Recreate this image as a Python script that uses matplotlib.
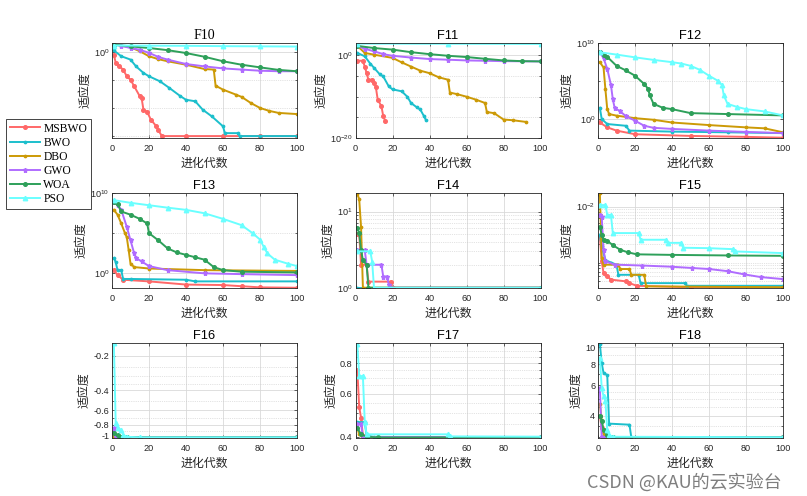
import numpy as np
import matplotlib
matplotlib.use('Agg')
import matplotlib.pyplot as plt
from matplotlib.ticker import NullFormatter

plt.rcParams['font.family'] = ['Liberation Sans', 'DejaVu Sans']
plt.rcParams['mathtext.fontset'] = 'custom'
plt.rcParams['mathtext.rm'] = 'Liberation Sans'
plt.rcParams['mathtext.it'] = 'Liberation Sans:italic'

algos = ['MSBWO', 'BWO', 'DBO', 'GWO', 'WOA', 'PSO']
colors = ['#FF6868', '#1CBFCC', '#CC9A06', '#B06CFF', '#2EA05A', '#6AFFFF']
markers = ['o', '.', '.', '*', 'o', '^']
msizes = [2.6, 3.4, 3.4, 3.6, 2.6, 3.2]

iters = [0, 20, 40, 60, 80, 100]

# ---- data: (iteration, best fitness) ----
f10_msbwo = [(1, 0.4), (2, 1.3e-2), (4, 3e-3), (6, 8e-4), (8, 5e-5), (10, 1.2e-5), (12, 8e-7), (15, 1.3e-8),
             (16, 6e-9), (17, 5e-11), (19, 2e-11), (21, 8e-13), (24, 5e-14), (25, 1e-14), (27, 8.88e-16),
             (40, 8.88e-16), (60, 8.88e-16), (80, 8.88e-16), (100, 8.88e-16)]
f10_bwo = [(1, 2.2), (5, 0.2), (10, 0.05), (13, 3e-3), (17, 2e-4), (20, 5e-5), (26, 6e-6), (31, 4e-7),
           (37, 1.3e-8), (40, 3e-9), (45, 1.6e-9), (49, 5e-11), (54, 3e-12), (60, 5e-14), (61, 3e-15),
           (68, 3e-15), (69, 8.88e-16), (80, 8.88e-16), (100, 8.88e-16)]
f10_dbo = [(1, 25), (5, 16), (10, 8), (15, 1.6), (20, 0.2), (25, 0.06), (30, 0.025), (40, 6e-3), (50, 1e-3),
           (55, 8e-4), (56, 1e-6), (60, 2e-7), (67, 2.5e-8), (70, 1e-8), (75, 8e-10), (80, 1e-10), (85, 3e-11),
           (90, 1.3e-11), (100, 8e-12)]
f10_gwo = [(1, 25), (5, 15), (10, 6), (15, 3), (20, 0.8), (25, 0.15), (30, 0.05), (40, 8e-3), (50, 3e-3),
           (60, 1.3e-3), (70, 8e-4), (80, 5e-4), (90, 4e-4), (100, 4e-4)]
f10_woa = [(1, 25), (10, 12), (20, 6), (30, 2.5), (40, 0.75), (50, 0.16), (60, 0.025), (70, 6e-3), (80, 2e-3),
           (90, 7e-4), (100, 4e-4)]
f10_pso = [(1, 17), (20, 16), (40, 15), (60, 13), (80, 12), (100, 11)]

f11_msbwo = [(1, 0.05), (4, 0.05), (5, 2e-3), (6, 5e-5), (7, 1.3e-6), (9, 1.3e-6), (10, 2.5e-7), (11, 2e-8),
             (12, 2e-11), (14, 5e-13), (15, 2e-15), (16, 1.6e-16)]
f11_bwo = [(1, 4), (5, 0.6), (8, 0.01), (10, 1e-3), (13, 3e-5), (15, 8e-6), (18, 3e-8), (20, 6e-9), (25, 2e-9),
           (28, 1e-10), (30, 3e-12), (33, 3e-13), (35, 8e-14), (37, 2e-15), (38, 2.5e-16)]
f11_dbo = [(1, 200), (5, 4), (10, 1.5), (20, 0.25), (25, 0.02), (30, 2e-3), (35, 2e-4), (40, 5e-5), (45, 5e-6),
           (50, 1.3e-6), (51, 1e-9), (55, 4e-10), (60, 1e-10), (65, 2e-11), (70, 3e-12), (71, 2e-14),
           (75, 1e-14), (80, 3e-16), (85, 2e-16), (92, 8e-17)]
f11_gwo = [(1, 200), (5, 40), (10, 10), (15, 2), (20, 0.8), (30, 0.3), (40, 0.13), (50, 0.09), (60, 0.06),
           (70, 0.05), (80, 0.04), (100, 0.035)]
f11_woa = [(1, 200), (10, 60), (20, 25), (30, 6), (40, 2), (50, 0.8), (60, 0.4), (70, 0.15), (80, 0.06),
           (90, 0.04), (100, 0.035)]
f11_pso = [(1, 700), (50, 650), (100, 600)]

f12_msbwo = [(1, 0.35), (5, 0.08), (10, 0.03), (20, 0.01), (50, 6e-3), (80, 4.5e-3), (100, 3.5e-3)]
f12_bwo = [(1, 30), (2, 1), (5, 0.22), (15, 0.13), (17, 0.03), (40, 0.022), (70, 0.018), (100, 0.014)]
f12_dbo = [(1, 3e7), (3, 6e6), (4, 8e3), (5, 20), (6, 4.5), (10, 2.8), (20, 1.3), (30, 0.8), (40, 0.35),
           (60, 0.16), (80, 0.08), (90, 0.06), (100, 0.018)]
f12_gwo = [(1, 6e8), (3, 1e8), (5, 4e6), (7, 3e4), (8, 400), (9, 30), (12, 10), (15, 2.5), (20, 0.6),
           (25, 0.13), (30, 0.07), (40, 0.05), (60, 0.03), (80, 0.02), (100, 0.014)]
f12_woa = [(1, 6e8), (3, 3e8), (5, 1.5e8), (10, 1e7), (15, 2.5e6), (20, 5e5), (25, 4e4), (27, 1e4),
           (28, 1.3e3), (30, 100), (35, 30), (40, 20), (50, 6), (70, 4.5), (100, 3)]
f12_pso = [(1, 6e8), (10, 3e8), (20, 1.3e8), (30, 6e7), (40, 3e7), (45, 2e7), (50, 1e7), (55, 3e6),
           (60, 5e5), (65, 1e5), (67, 3e4), (68, 1.3e3), (70, 100), (75, 40), (80, 20), (90, 10), (100, 3)]

f13_msbwo = [(1, 2.5), (3, 0.6), (6, 0.16), (20, 0.1), (40, 0.04), (60, 0.035), (70, 0.025), (80, 0.018),
             (100, 0.016)]
f13_bwo = [(1, 80), (2, 25), (3, 2.5), (5, 2.5), (6, 0.2), (10, 0.2), (40, 0.16), (45, 0.1), (100, 0.1)]
f13_dbo = [(1, 8e7), (3, 2e7), (5, 1.6e6), (7, 1e5), (8, 3e4), (9, 800), (10, 16), (12, 6), (20, 4),
           (50, 2.5), (100, 2)]
f13_gwo = [(1, 8e8), (3, 3e8), (5, 8e7), (8, 6e5), (10, 1.3e4), (12, 300), (13, 80), (16, 30), (20, 8),
           (30, 2.5), (50, 1), (70, 0.8), (100, 0.6)]
f13_woa = [(1, 8e8), (3, 4e8), (5, 5e7), (10, 2e7), (15, 6e6), (19, 1.6e6), (20, 1e5), (25, 1.3e4),
           (30, 1.3e3), (35, 400), (40, 200), (45, 100), (50, 50), (55, 6), (60, 2.5), (70, 1.6), (100, 1.3)]
f13_pso = [(1, 1.3e9), (10, 6e8), (20, 3e8), (30, 1.5e8), (40, 8e7), (50, 3e7), (60, 6e6), (70, 1e6),
           (76, 1e5), (80, 1.6e4), (82, 2e3), (84, 300), (88, 50), (95, 16), (100, 8)]

f14_msbwo = [(1, 5.1), (2, 5.1), (3, 2.0), (6, 2.0), (7, 1.2), (19, 1.2), (20, 0.998), (100, 0.998)]
f14_bwo = [(1, 0.998), (100, 0.998)]
f14_dbo = [(1, 17), (2, 14.5), (3, 6.3), (4, 0.998), (100, 0.998)]
f14_gwo = [(1, 3.1), (5, 3.1), (6, 2.0), (14, 2.0), (15, 1.4), (17, 1.4), (18, 1.1), (19, 0.998), (100, 0.998)]
f14_woa = [(1, 6.1), (2, 5.2), (3, 3.1), (4, 2.3), (6, 2.0), (7, 0.998), (100, 0.998)]
f14_pso = [(1, 3.0), (8, 3.0), (9, 2.2), (10, 0.998), (100, 0.998)]

f15_msbwo = [(1, 2.8e-3), (2, 9.5e-4), (3, 5.7e-4), (5, 5e-4), (7, 4.3e-4), (15, 4e-4), (17, 3.7e-4),
             (21, 3.3e-4), (50, 3.1e-4), (100, 3.07e-4)]
f15_bwo = [(1, 3e-3), (2, 1.8e-3), (4, 1.0e-3), (7, 9e-4), (10, 8.2e-4), (11, 5.3e-4), (22, 5.3e-4),
           (23, 3.7e-4), (47, 3.7e-4), (48, 3.3e-4), (100, 3.3e-4)]
f15_dbo = [(1, 0.018), (2, 1.1e-3), (3, 8.2e-4), (11, 8.2e-4), (12, 6.8e-4), (17, 6.8e-4), (18, 5.3e-4),
           (25, 5.3e-4), (26, 3.22e-4), (100, 3.1e-4)]
f15_gwo = [(1, 7e-3), (2, 6.5e-3), (3, 1.56e-3), (4, 9.5e-4), (9, 8.2e-4), (24, 7.9e-4), (40, 7.5e-4),
           (51, 7.1e-4), (60, 6.8e-4), (70, 6.2e-4), (79, 5.4e-4), (88, 4.8e-4), (100, 4.4e-4)]
f15_woa = [(1, 4.2e-3), (2, 3e-3), (3, 2.4e-3), (5, 2.3e-3), (8, 1.9e-3), (12, 1.56e-3), (16, 1.4e-3),
           (21, 1.28e-3), (40, 1.25e-3), (70, 1.22e-3), (100, 1.2e-3)]
f15_pso = [(1, 0.0107), (4, 0.0107), (5, 7e-3), (7, 7e-3), (8, 3.2e-3), (22, 3.2e-3), (23, 2.4e-3),
           (37, 2.4e-3), (38, 2.1e-3), (45, 2.1e-3), (46, 1.7e-3), (60, 1.67e-3), (73, 1.6e-3),
           (74, 1.45e-3), (100, 1.35e-3)]

f16_msbwo = [(1, -1.01), (3, -1.031), (100, -1.0316)]
f16_bwo = [(1, -1.025), (3, -1.031), (100, -1.0316)]
f16_dbo = [(1, -1.03), (100, -1.0316)]
f16_gwo = [(1, -0.86), (2, -1.02), (5, -1.031), (100, -1.0316)]
f16_woa = [(1, -0.95), (3, -0.99), (5, -1.02), (8, -1.031), (100, -1.0316)]
f16_pso = [(1, -0.156), (2, -0.78), (3, -0.85), (5, -0.89), (6, -0.98), (8, -1.02), (15, -1.031), (100, -1.0316)]

f17_msbwo = [(1, 0.75), (2, 0.53), (3, 0.48), (4, 0.405), (6, 0.399), (100, 0.398)]
f17_bwo = [(1, 0.46), (5, 0.46), (6, 0.405), (10, 0.4), (100, 0.398)]
f17_dbo = [(1, 0.435), (2, 0.41), (4, 0.398), (100, 0.398)]
f17_gwo = [(1, 0.45), (3, 0.45), (4, 0.40), (100, 0.398)]
f17_woa = [(1, 0.435), (3, 0.41), (6, 0.401), (12, 0.398), (100, 0.398)]
f17_pso = [(1, 0.96), (2, 0.71), (4, 0.71), (5, 0.46), (6, 0.41), (50, 0.41), (51, 0.402), (100, 0.401)]

f18_msbwo = [(1, 4.0), (2, 3.4), (3, 3.2), (4, 3.0), (100, 3.0)]
f18_bwo = [(1, 10.5), (2, 8.1), (3, 7.1), (5, 6.9), (6, 3.6), (17, 3.55), (18, 3.0), (100, 3.0)]
f18_dbo = [(1, 4.7), (2, 3.75), (3, 3.15), (4, 3.0), (100, 3.0)]
f18_gwo = [(1, 5.8), (2, 3.0), (100, 3.0)]
f18_woa = [(1, 4.0), (2, 3.75), (3, 3.3), (5, 3.1), (8, 3.0), (100, 3.0)]
f18_pso = [(1, 8.7), (2, 5.8), (3, 5.2), (4, 4.9), (5, 3.3), (6, 3.1), (8, 3.02), (100, 3.0)]

W, H = 807, 496
fig = plt.figure(figsize=(W / 100, H / 100), dpi=100)


def neglog_fwd(y):
    return -np.log10(np.clip(-np.asarray(y, dtype=float), 1e-12, None))


def neglog_inv(u):
    return -10.0 ** (-np.asarray(u, dtype=float))


panels = [
    ('F10', [f10_msbwo, f10_bwo, f10_dbo, f10_gwo, f10_woa, f10_pso], 'log', (4e-16, 48),
     [1e0], ['$10^{0}$'], [1e-5, 1e-10, 1e-15]),
    ('F11', [f11_msbwo, f11_bwo, f11_dbo, f11_gwo, f11_woa, f11_pso], 'log', (1e-20, 1e3),
     [1e-20, 1e0], ['$10^{-20}$', '$10^{0}$'], [1e-15, 1e-10, 1e-5]),
    ('F12', [f12_msbwo, f12_bwo, f12_dbo, f12_gwo, f12_woa, f12_pso], 'log', (3.2e-3, 1e10),
     [1e0, 1e10], ['$10^{0}$', '$10^{10}$'], [1e5]),
    ('F13', [f13_msbwo, f13_bwo, f13_dbo, f13_gwo, f13_woa, f13_pso], 'log', (0.015, 1e10),
     [1e0, 1e10], ['$10^{0}$', '$10^{10}$'], [1e5]),
    ('F14', [f14_msbwo, f14_bwo, f14_dbo, f14_gwo, f14_woa, f14_pso], 'log', (0.99, 17.5),
     [1e0, 1e1], ['$10^{0}$', '$10^{1}$'], [2, 3, 4, 5, 6, 7, 8, 9]),
    ('F15', [f15_msbwo, f15_bwo, f15_dbo, f15_gwo, f15_woa, f15_pso], 'log', (3.0e-4, 1.8e-2),
     [1e-2], ['$10^{-2}$'], [4e-4, 5e-4, 6e-4, 7e-4, 8e-4, 9e-4, 2e-3, 3e-3, 4e-3, 5e-3, 6e-3, 7e-3, 8e-3, 9e-3]),
    ('F16', [f16_msbwo, f16_bwo, f16_dbo, f16_gwo, f16_woa, f16_pso], 'neglog', (-1.045, -0.155),
     [-1, -0.8, -0.6, -0.4, -0.2], ['-1', '-0.8', '-0.6', '-0.4', '-0.2'],
     [-0.9, -0.7, -0.5, -0.35, -0.3, -0.25]),
    ('F17', [f17_msbwo, f17_bwo, f17_dbo, f17_gwo, f17_woa, f17_pso], 'log', (0.396, 0.97),
     [0.4, 0.6, 0.8], ['0.4', '0.6', '0.8'], [0.45, 0.5, 0.55, 0.65, 0.7, 0.75, 0.85, 0.9]),
    ('F18', [f18_msbwo, f18_bwo, f18_dbo, f18_gwo, f18_woa, f18_pso], 'log', (2.97, 10.6),
     [4, 6, 8, 10], ['4', '6', '8', '10'], [3, 3.5, 4.5, 5, 5.5, 7, 9]),
]

lefts = [112, 355.5, 598]
bottoms = [138, 288, 438]
aw, ah = 185, 95
cjk = ['Noto Sans CJK SC', 'DejaVu Sans']

axes = []
for i, (title, series, scale, ylim, yt, ytl, ymin) in enumerate(panels):
    r, c = divmod(i, 3)
    ax = fig.add_axes([lefts[c] / W, 1 - bottoms[r] / H, aw / W, ah / H])
    axes.append(ax)
    if scale == 'log':
        ax.set_yscale('log')
    else:
        ax.set_yscale('function', functions=(neglog_fwd, neglog_inv))
    for pts, name, col, mk, ms in zip(series, algos, colors, markers, msizes):
        xs = [p[0] for p in pts]
        ys = [p[1] for p in pts]
        ax.plot(xs, ys, color=col, lw=1.4, marker=mk, ms=ms, label=name)
    ax.set_xlim(0, 100)
    ax.set_xticks(iters)
    ax.set_ylim(*ylim)
    ax.set_yticks(yt, labels=ytl)
    ax.set_yticks(ymin, minor=True)
    ax.yaxis.set_minor_formatter(NullFormatter())
    ax.grid(True, which='major', color='#d9d9d9', lw=0.6, ls='-')
    ax.grid(True, which='minor', axis='y', color='#c8c8c8', lw=0.5, ls=':')
    ax.set_axisbelow(True)
    ax.tick_params(which='both', direction='in', top=True, right=True, labelsize=6.6,
                   colors='#262626', length=2.5, width=0.5)
    ax.tick_params(axis='x', pad=4)
    ax.tick_params(axis='y', pad=2)
    ax.tick_params(which='minor', length=1.5)
    for s in ax.spines.values():
        s.set_color('#262626')
        s.set_linewidth(0.6)
    if title == 'F10':
        ax.set_title(title, fontsize=10, family='Liberation Serif', pad=3)
    else:
        ax.set_title(title, fontsize=9.3, pad=3)
    ax.set_xlabel('进化代数', family=cjk, fontsize=8.6, color='#262626', labelpad=3)
    ax.set_ylabel('适应度', family=cjk, fontsize=8.6, color='#262626', labelpad=2)

handles, labels = axes[0].get_legend_handles_labels()
leg = fig.legend(handles, labels, loc='upper left', bbox_to_anchor=(6 / W, 1 - 119 / H),
                 prop={'family': 'Liberation Serif', 'size': 8.4}, frameon=True, fancybox=False,
                 edgecolor='#262626', framealpha=1, handlelength=2.6, handletextpad=0.3,
                 labelspacing=0.18, borderpad=0.3, borderaxespad=0)
leg.get_frame().set_linewidth(0.6)

fig.text(587 / W, 1 - 482 / H, 'CSDN @KAU的云实验台', family=cjk,
         fontsize=13, color='#7f7f7f', va='center', ha='left')

fig.savefig('out.png', dpi=100)
